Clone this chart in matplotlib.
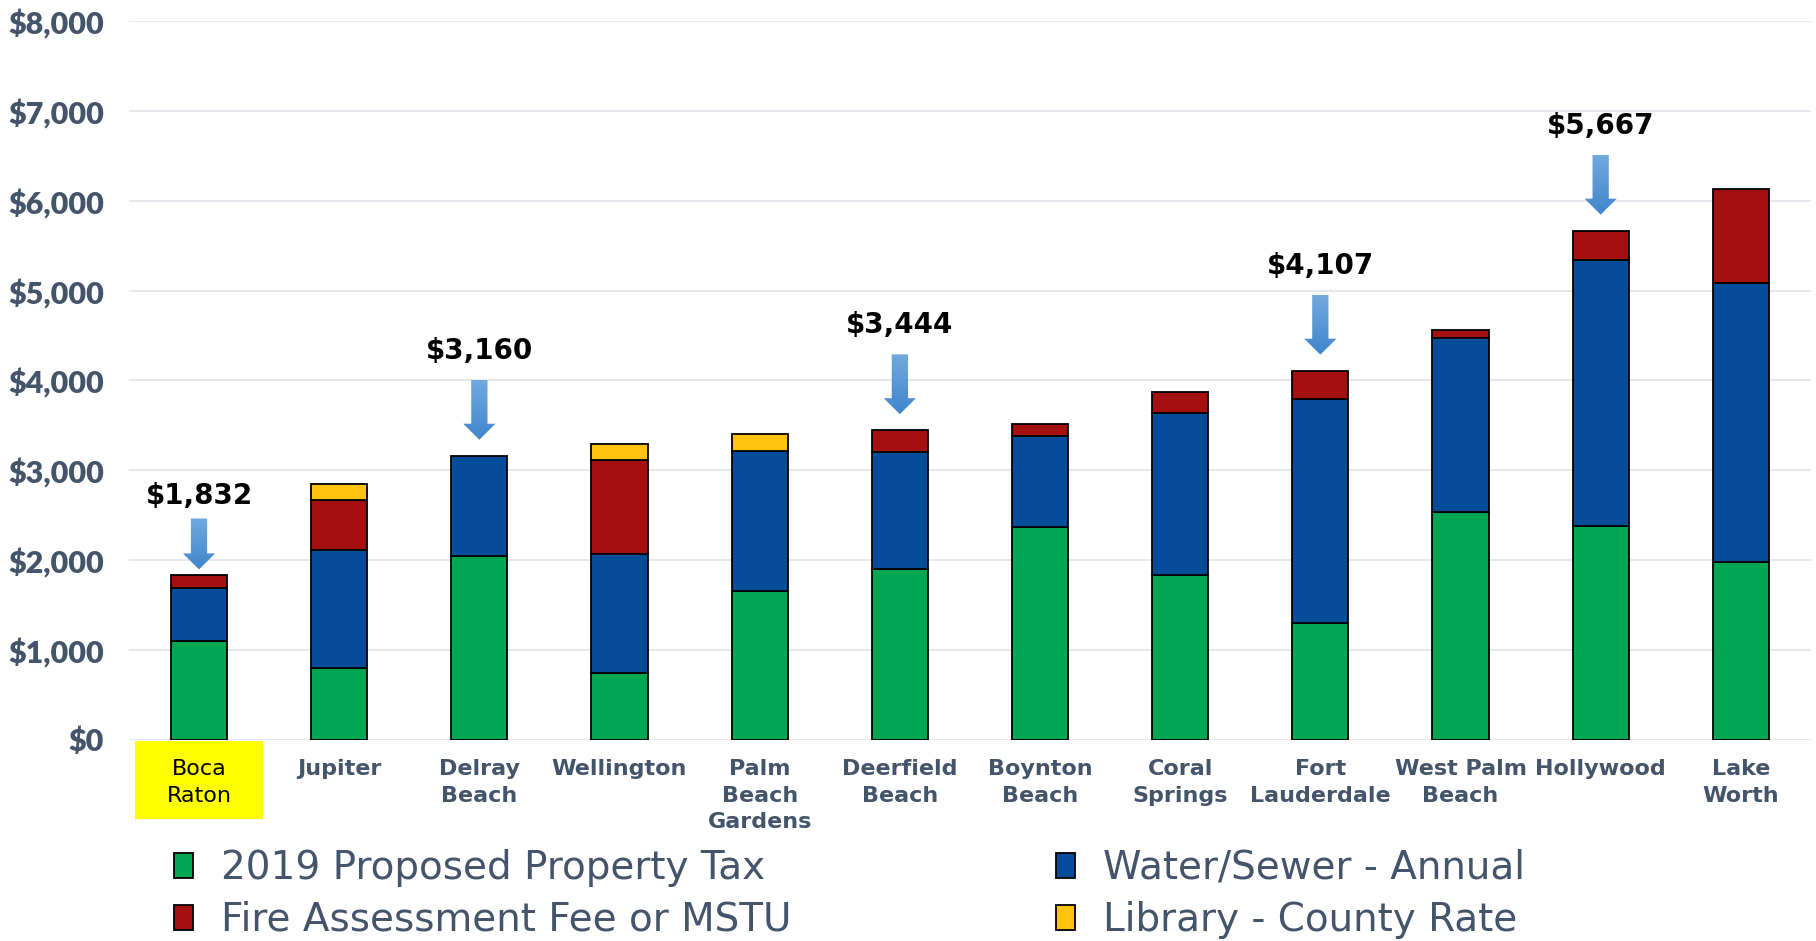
import numpy as np
import matplotlib
matplotlib.use('Agg')
import matplotlib.pyplot as plt
from matplotlib.patches import Polygon, Rectangle
import matplotlib.transforms as mtransforms

cities = ['Boca\nRaton', 'Jupiter', 'Delray\nBeach', 'Wellington', 'Palm\nBeach\nGardens',
          'Deerfield\nBeach', 'Boynton\nBeach', 'Coral\nSprings', 'Fort\nLauderdale',
          'West Palm\nBeach', 'Hollywood', 'Lake\nWorth']
property_tax = [1096, 795, 2050, 740, 1655, 1904, 2367, 1833, 1300, 2537, 2384, 1976]
water_sewer = [593, 1316, 1110, 1327, 1562, 1302, 1017, 1807, 2495, 1936, 2962, 3110]
fire_fee = [143, 561, 0, 1042, 0, 238, 129, 229, 312, 92, 321, 1042]
library = [0, 178, 0, 183, 185, 0, 0, 0, 0, 0, 0, 0]
callouts = ['Boca\nRaton', 'Delray\nBeach', 'Deerfield\nBeach', 'Fort\nLauderdale', 'Hollywood']
highlight = 'Boca\nRaton'

series = [
    ('2019 Proposed Property Tax', property_tax, '#00A651'),
    ('Water/Sewer - Annual', water_sewer, '#054D9B'),
    ('Fire Assessment Fee or MSTU', fire_fee, '#A50F0F'),
    ('Library - County Rate', library, '#FFC20E'),
]

text_col = '#44546A'

fig = plt.figure(figsize=(18.16, 9.41), dpi=100, facecolor='white')
ax = fig.add_axes([0.0710, 0.2141, 0.9262, 0.7632])

x = np.arange(len(cities))
bottom = np.zeros(len(cities))
for name, vals, col in series:
    vals = np.array(vals, dtype=float)
    lw = np.where(vals > 0, 1.3, 0)
    ax.bar(x, vals, 0.4, bottom=bottom, color=col, edgecolor='black',
           linewidth=lw, zorder=3)
    bottom += vals

totals = bottom

ax.set_xlim(-0.5, len(cities) - 0.5)
ax.set_ylim(0, 8000)
ax.set_yticks(np.arange(0, 8001, 1000))
ax.set_yticklabels([f'${v:,}' for v in range(0, 8001, 1000)])
ax.yaxis.grid(True, color='#E3E6EC', linewidth=1.3)
for s in ax.spines.values():
    s.set_visible(False)
ax.tick_params(axis='y', length=0, pad=18, labelsize=22, labelcolor=text_col)
for lab in ax.get_yticklabels():
    lab.set_fontfamily('Lato')
    lab.set_fontweight('heavy')

ax.set_xticks(x)
ax.set_xticklabels(cities, linespacing=1.42)
ax.tick_params(axis='x', length=0, pad=14, labelsize=16, labelcolor=text_col)
for lab in ax.get_xticklabels():
    lab.set_fontfamily('DejaVu Sans')
    lab.set_fontweight('bold')
    if lab.get_text() == highlight:
        lab.set_color('black')
        lab.set_fontweight('medium')

# yellow box behind the highlighted city label
trans = mtransforms.blended_transform_factory(ax.transData, ax.transAxes)
hi = cities.index(highlight)
ax.add_patch(Rectangle((hi - 0.46, -0.1105), 0.92, 0.108, transform=trans,
                       facecolor='#FFFF00', edgecolor='none', clip_on=False, zorder=0.5))

# callout arrows with gradient fill
grad = np.linspace(0, 1, 64).reshape(-1, 1)
cmap = matplotlib.colors.LinearSegmentedColormap.from_list('arr', ['#72A9DE', '#3F86CC'])
for c in callouts:
    i = cities.index(c)
    top = totals[i]
    small = c == highlight
    tip = top + 180 * (0.35 if small else 1.0)
    tail = tip + 667 * (0.85 if small else 1.0)
    hl = 178
    sw, hw = 0.058, 0.115
    pts = [(i - sw, tail), (i + sw, tail), (i + sw, tip + hl), (i + hw, tip + hl),
           (i, tip), (i - hw, tip + hl), (i - sw, tip + hl)]
    poly = Polygon(pts, closed=True, facecolor='none', edgecolor='none', zorder=4)
    ax.add_patch(poly)
    im = ax.imshow(grad, extent=(i - hw, i + hw, tip, tail), origin='upper',
                   cmap=cmap, aspect='auto', zorder=4)
    im.set_clip_path(poly)
    ax.text(i, top + 1170 * (0.75 if small else 1.0), f'${int(round(top)):,}',
            ha='center', va='center', fontsize=20, fontweight='bold',
            family='DejaVu Sans', color='black', zorder=5)

ax.set_xlim(-0.5, len(cities) - 0.5)
ax.set_ylim(0, 8000)

# legend in two columns, proxy squares so every key gets its black edge
proxies = {name: Rectangle((0, 0), 1, 1, facecolor=col, edgecolor='black', linewidth=1.3)
           for name, _, col in series}
leg_kw = dict(frameon=False, labelcolor=text_col, handlelength=0.5,
              handleheight=0.6, handletextpad=0.7, labelspacing=0.36, borderpad=0,
              borderaxespad=0, loc='center left', prop={'family': 'DejaVu Sans', 'size': 28})
col1 = [series[0][0], series[2][0]]
col2 = [series[1][0], series[3][0]]
fig.legend([proxies[n] for n in col1], col1, bbox_to_anchor=(174 / 1816, 0.05), **leg_kw)
fig.legend([proxies[n] for n in col2], col2, bbox_to_anchor=(1056 / 1816, 0.05), **leg_kw)

fig.savefig('out.png', dpi=100, facecolor='white')
